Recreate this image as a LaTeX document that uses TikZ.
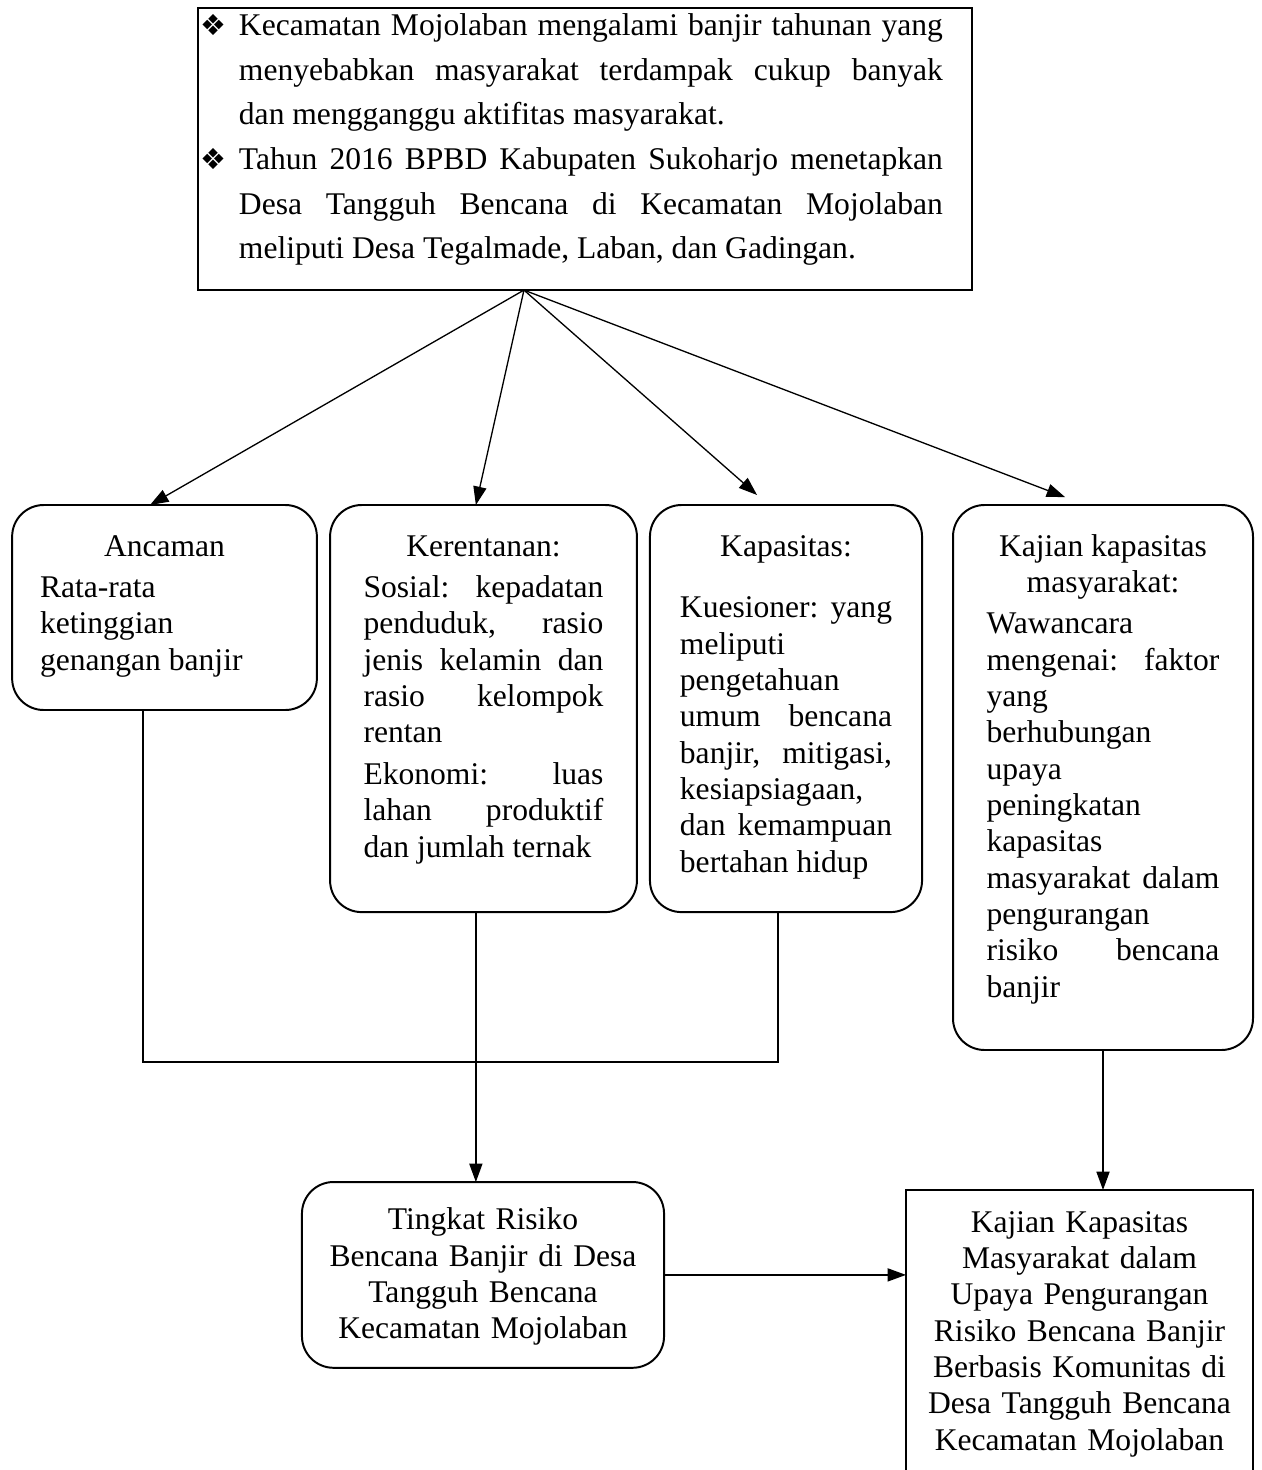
\documentclass[tikz,border=0pt]{standalone}
\usepackage{fontspec}
\setmainfont{Liberation Serif}
\newfontfamily\dejavu{DejaVu Sans}
\usetikzlibrary{positioning, arrows.meta}
\newcommand{\bul}{{\dejavu\fontsize{11}{11}\selectfont ❖}}
\newcommand{\butir}{\hangindent=14.8pt\hangafter=1\noindent\makebox[14.8pt][l]{\bul}}
\newcommand{\judul}[1]{\centerline{#1}\par}
\tikzstyle{box} = [draw, line width=0.75pt, inner ysep=0pt, outer sep=0pt, anchor=north, font=\fontsize{12}{13.8}\selectfont]
\tikzstyle{rbox} = [box, rounded corners=12pt]
\tikzstyle{conn} = [line width=0.5pt]
\tikzstyle{arrow} = [conn, -{Triangle[length=7pt,width=5pt]}]

\begin{document}
\tolerance=10000 \hyphenpenalty=10000 \exhyphenpenalty=10000
\begin{tikzpicture}[x=0.38pt, y=-0.38pt]
  \useasboundingbox (0,0) rectangle (1262,1470);
  \clip (0,0) rectangle (1262,1470);

  \node (top) [box, align=justify, text width=292.6pt, inner xsep=0.76pt, text height=10.5pt, text depth=96.7pt, font=\fontsize{12}{16.95}\selectfont] at (585,8)
    {\rightskip=10.3pt
     \butir Kecamatan Mojolaban mengalami banjir tahunan yang\linebreak menyebabkan masyarakat terdampak cukup banyak\linebreak dan mengganggu aktifitas masyarakat.\par
     \butir Tahun 2016 BPBD Kabupaten Sukoharjo menetapkan\linebreak Desa Tangguh Bencana di Kecamatan Mojolaban\linebreak meliputi Desa Tegalmade, Laban, dan Gadingan.\par};

  \node (anc) [rbox, align=justify, text width=94.6pt, inner xsep=10.6pt, text height=19.4pt, text depth=58.5pt] at (164.5,505)
    {\judul{Ancaman}\vspace{2pt}
     Rata-rata\linebreak ketinggian\linebreak genangan banjir};
  \node (ker) [rbox, align=justify, text width=91.2pt, inner xsep=12.7pt, text height=19.4pt, text depth=135.3pt] at (483.5,505)
    {\judul{Kerentanan:}\vspace{2pt}
     Sosial: kepadatan\linebreak penduduk, rasio\linebreak jenis kelamin dan\linebreak rasio kelompok\linebreak rentan\par\vspace{2pt}
     Ekonomi: luas\linebreak lahan produktif\linebreak dan jumlah ternak};
  \node (kap) [rbox, align=justify, text width=80.6pt, inner xsep=11.4pt, text height=19.4pt, text depth=135.3pt] at (786,505)
    {\judul{Kapasitas:}\vspace{9.7pt}
     Kuesioner: yang\linebreak meliputi\linebreak pengetahuan\linebreak umum bencana\linebreak banjir, mitigasi,\linebreak kesiapsiagaan,\linebreak dan kemampuan\linebreak bertahan hidup};
  \node (kaj) [rbox, align=justify, text width=88.5pt, inner xsep=12.75pt, text height=19.4pt, text depth=187.7pt] at (1103,505)
    {\judul{Kajian kapasitas}\judul{masyarakat:}\vspace{2pt}
     Wawancara\linebreak mengenai: faktor\linebreak yang\linebreak berhubungan\linebreak upaya\linebreak peningkatan\linebreak kapasitas\linebreak masyarakat dalam\linebreak pengurangan\linebreak risiko bencana\linebreak banjir};

  \node (tin) [rbox, align=center, text width=137.6pt, inner xsep=0pt, text height=18.2pt, text depth=52.4pt] at (483,1182)
    {Tingkat Risiko\\Bencana Banjir di Desa\\Tangguh Bencana\\Kecamatan Mojolaban};
  \node (fin) [box, align=center, text width=131.9pt, inner xsep=0pt, text height=16pt, text depth=101.8pt] at (1079.5,1190)
    {Kajian Kapasitas\\Masyarakat dalam\\Upaya Pengurangan\\Risiko Bencana Banjir\\Berbasis Komunitas di\\Desa Tangguh Bencana\\Kecamatan Mojolaban};

  \coordinate (hub) at ([xshift=-23.2pt]top.south);
  \draw [arrow] (hub) -- ([xshift=-5.5pt]anc.north);
  \draw [arrow] (hub) -- ([xshift=-2.9pt]ker.north);
  \draw [arrow] (hub) -- ([xshift=-11pt,yshift=3.8pt]kap.north);
  \draw [arrow] (hub) -- ([xshift=-14.4pt,yshift=3pt]kaj.north);

  \draw [conn] ([xshift=-8.2pt]anc.south) -- ++(0,352) -| ([xshift=-3pt]kap.south);
  \draw [arrow] ([xshift=-2.9pt]ker.south) -- ([xshift=-2.9pt]ker.south |- tin.north);
  \draw [arrow] (kaj.south) -- (kaj.south |- fin.north);
  \draw [arrow] (tin.east) -- (tin.east -| fin.west);
\end{tikzpicture}
\end{document}
